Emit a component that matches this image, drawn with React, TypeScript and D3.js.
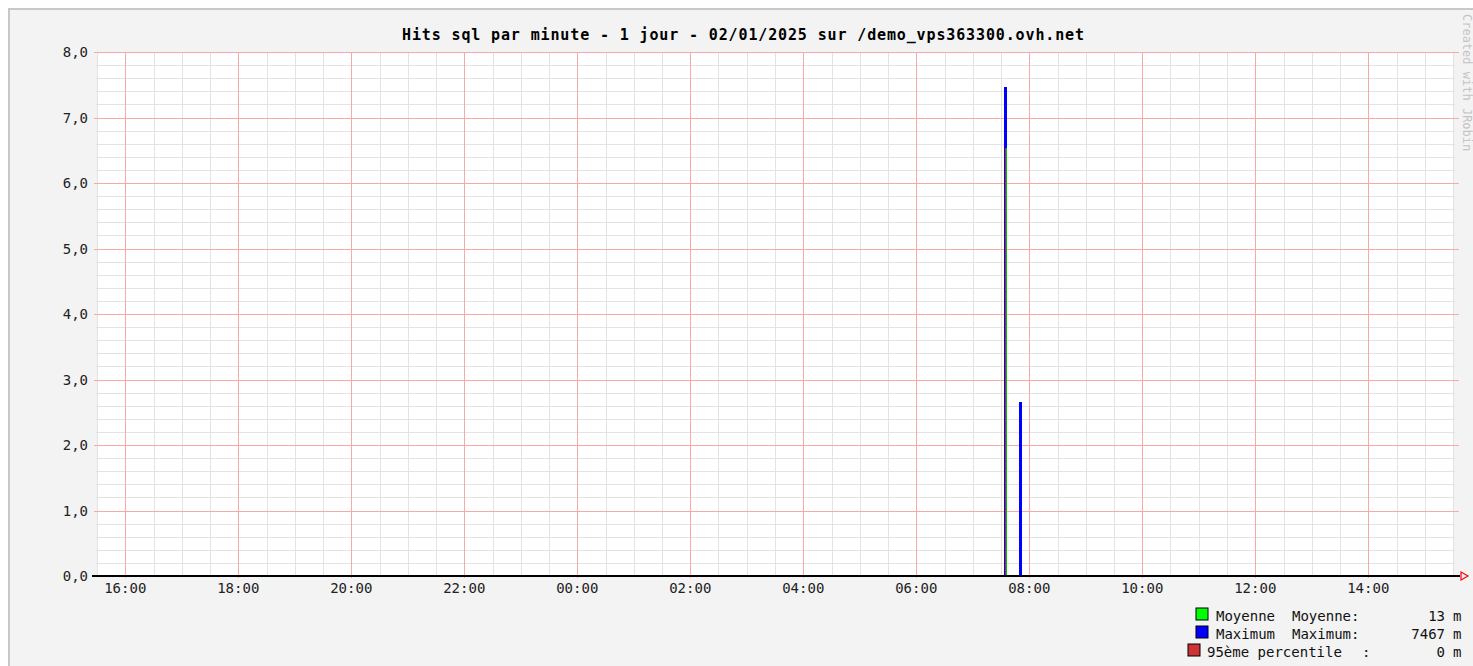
import React from "react";
import * as d3 from "d3";

// window of the graph: 1 jour
const periodStart = "2025-01-01T15:30";
const periodEnd = "2025-01-02T15:30";

// samples that are not zero (hits sql par minute, thousandths)
const sampleTimes = ["2025-01-02T07:35", "2025-01-02T07:51"];
const maxValues = [7.467, 2.66];
const avgValues = [6.53, 0];
const pctValues = [6.53, 0];

const yTicks = [0, 1, 2, 3, 4, 5, 6, 7, 8];
const legendRows = [
  { name: "Moyenne", label: "Moyenne:", value: "13", color: "#00ff00" },
  { name: "Maximum", label: "Maximum:", value: "7467", color: "#0000ff" },
  { name: "95ème percentile", label: ":", value: "0", color: "#cc3333" },
];
const title = "Hits sql par minute - 1 jour - 02/01/2025 sur /demo_vps363300.ovh.net";

const W = 1473;
const H = 666;
const left = 97;
const right = 1453;
const top = 52;
const bottom = 576;
const mono = "'DejaVu Sans Mono', 'Liberation Mono', monospace";

export default function App() {
  const parse = d3.timeParse("%Y-%m-%dT%H:%M");
  const x = d3
    .scaleTime()
    .domain([parse(periodStart)!, parse(periodEnd)!])
    .range([left, right]);
  const y = d3.scaleLinear().domain([0, 8]).range([bottom, top]);
  const px = (v: number) => Math.round(v) + 0.5;

  const minorX = d3.timeMinute.every(30)!.range(x.domain()[0], d3.timeMinute.offset(x.domain()[1], 1));
  const majorX = d3.timeHour.every(2)!.range(x.domain()[0], x.domain()[1]);
  const minorY = d3.range(0, 41).map((i) => i / 5);
  const fmt = d3.timeFormat("%H:%M");

  const bar = (vals: number[], dx: number, w: number, color: string) =>
    sampleTimes.map((t, i) => {
      const v = vals[i];
      if (!v) return null;
      const cx = Math.round(x(parse(t)!));
      return (
        <rect key={color + i} x={cx + dx} y={Math.round(y(v))} width={w} height={bottom - Math.round(y(v))} fill={color} />
      );
    });

  return (
    <svg
      width={W}
      height={H}
      style={{ position: "absolute", left: 0, top: 0, display: "block" }}
      fontFamily={mono}
    >
      <rect x={0} y={0} width={W} height={H} fill="#ffffff" />
      <rect x={8} y={8} width={W} height={H} fill="#f3f3f3" />
      <rect x={8} y={8} width={2} height={H} fill="#c8c8c8" />
      <rect x={8} y={8} width={W} height={2} fill="#c8c8c8" />

      <text x={743} y={40} textAnchor="middle" fontSize={15} fontWeight="bold" fill="#000" textLength={682} lengthAdjust="spacing">
        {title}
      </text>

      <rect x={left} y={top} width={right - left} height={bottom - top} fill="#fff" />

      <g shapeRendering="crispEdges">
        {/* minor grid */}
        {minorY.map((v, i) => (
          <line key={"my" + i} x1={left - 1} x2={right + 2} y1={px(y(v))} y2={px(y(v))} stroke="#e3e3e3" strokeWidth={1} />
        ))}
        {minorX.map((t, i) => (
          <line key={"mx" + i} x1={px(x(t))} x2={px(x(t))} y1={top} y2={bottom} stroke="#e3e3e3" strokeWidth={1} />
        ))}
        {/* major grid */}
        {yTicks.map((v) => (
          <line key={"Y" + v} x1={left - 3} x2={right + 6} y1={px(y(v))} y2={px(y(v))} stroke="#f7a8a8" strokeWidth={1} />
        ))}
        {majorX.map((t, i) => (
          <line key={"X" + i} x1={px(x(t))} x2={px(x(t))} y1={top} y2={bottom + 2} stroke="#f7a8a8" strokeWidth={1} />
        ))}

        {/* data */}
        {bar(maxValues, -2, 3, "#0000ff")}
        {bar(avgValues, 0, 1, "#00c000")}
        {bar(pctValues, -1, 1, "#a83020")}

        {/* axis */}
        <line x1={left - 5} x2={right + 7} y1={bottom} y2={bottom} stroke="#000" strokeWidth={2} />
      </g>
      <path
        d={`M${right + 8},${bottom - 4} L${right + 15},${bottom} L${right + 8},${bottom + 4} Z`}
        fill="none"
        stroke="#ff0000"
        strokeWidth={1.2}
      />

      {yTicks.map((v) => (
        <text key={"yl" + v} x={88} y={y(v) + 5} textAnchor="end" fontSize={14} fill="#222">
          {d3.format(".1f")(v).replace(".", ",")}
        </text>
      ))}
      {majorX.map((t, i) => (
        <text key={"xl" + i} x={x(t)} y={593} textAnchor="middle" fontSize={14} fill="#222">
          {fmt(t)}
        </text>
      ))}

      <text transform={`translate(1463,14) rotate(90)`} fontSize={12} fill="#c4c4c4">
        Created with JRobin
      </text>

      {/* legend */}
      {legendRows.map((r, i) => {
        const base = 621 + i * 18;
        const sx = i === 2 ? 1188 : 1196;
        const tx = i === 2 ? 1207 : 1216;
        return (
          <g key={r.name} fontSize={14} fill="#111">
            <rect x={sx} y={base - 13} width={12} height={12} fill={r.color} stroke="#000" strokeWidth={1} />
            <text x={tx} y={base}>{r.name}</text>
            <text x={i === 2 ? 1362 : 1292} y={base}>{r.label}</text>
            <text x={1445} y={base} textAnchor="end">{r.value}</text>
            <text x={1453} y={base}>m</text>
          </g>
        );
      })}
    </svg>
  );
}
